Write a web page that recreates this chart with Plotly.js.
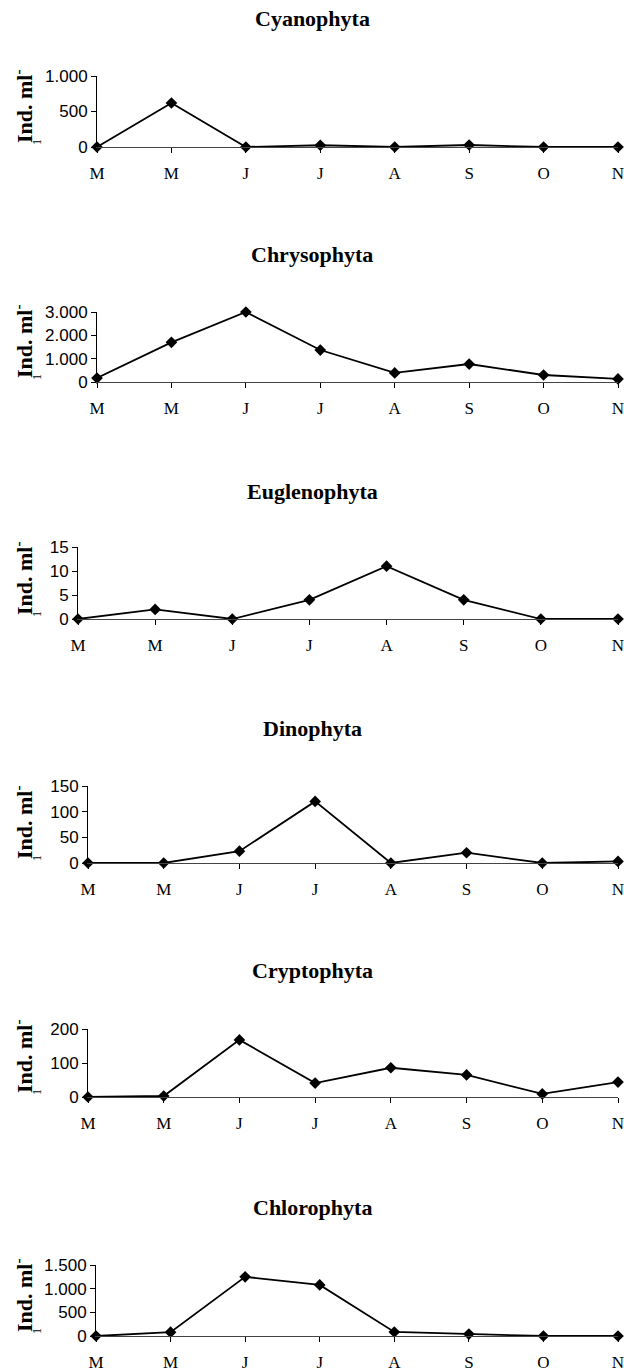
<!DOCTYPE html>
<html>
<head>
<meta charset="utf-8">
<script src="https://cdn.plot.ly/plotly-3.0.1.min.js"></script>
<style>html,body{margin:0;padding:0;background:#fff;}#chart{width:624px;height:1371px;}</style>
</head>
<body>
<div id="chart"></div>
<script>
// ---- data ----
const months = ['M', 'M', 'J', 'J', 'A', 'S', 'O', 'N'];
const panelNames = ['Cyanophyta', 'Chrysophyta', 'Euglenophyta', 'Dinophyta', 'Cryptophyta', 'Chlorophyta'];
const cyanophyta   = [0, 620, 0, 25, 0, 28, 0, 0];
const chrysophyta  = [170, 1700, 3000, 1370, 390, 770, 300, 130];
const euglenophyta = [0, 2, 0, 4, 11, 4, 0, 0];
const dinophyta    = [0, 0, 23, 120, 0, 20, 0, 3];
const cryptophyta  = [0, 3, 168, 41, 86, 65, 9, 44];
const chlorophyta  = [0, 80, 1250, 1080, 85, 40, 0, 0];
const ticksCyanophyta   = [0, 500, 1000];
const ticksChrysophyta  = [0, 1000, 2000, 3000];
const ticksEuglenophyta = [0, 5, 10, 15];
const ticksDinophyta    = [0, 50, 100, 150];
const ticksCryptophyta  = [0, 100, 200];
const ticksChlorophyta  = [0, 500, 1000, 1500];
const yLabel = 'Ind. ml';

const series = [cyanophyta, chrysophyta, euglenophyta, dinophyta, cryptophyta, chlorophyta];
const yTicks = [ticksCyanophyta, ticksChrysophyta, ticksEuglenophyta, ticksDinophyta, ticksCryptophyta, ticksChlorophyta];

// ---- geometry (pixels) ----
const W = 624, H = 1371;
const geom = [
  {left: 97, zero: 147,  top: 76,   title: 18},
  {left: 97, zero: 382,  top: 312,  title: 255},
  {left: 78, zero: 619,  top: 547,  title: 491},
  {left: 88, zero: 863,  top: 786,  title: 728},
  {left: 88, zero: 1097, top: 1029, title: 970},
  {left: 96, zero: 1336, top: 1265, title: 1207}
];
const rightPx = 618;
const py = p => 1 - p / H;
const px = p => p / W;

const idx = months.map((m, k) => k);
const traces = [];
const layout = {
  width: W, height: H,
  margin: {l: 0, r: 0, t: 0, b: 0},
  paper_bgcolor: '#fff', plot_bgcolor: '#fff',
  showlegend: false,
  separators: ',.',
  annotations: []
};

series.forEach((vals, i) => {
  const n = i === 0 ? '' : String(i + 1);
  const g = geom[i];
  const ticks = yTicks[i];
  traces.push({
    x: idx, y: vals,
    xaxis: 'x' + n, yaxis: 'y' + n,
    type: 'scatter', mode: 'lines+markers',
    line: {color: '#000', width: 1.8},
    marker: {symbol: 'diamond', size: 9, color: '#000'},
    cliponaxis: false,
    hoverinfo: 'skip'
  });
  layout['xaxis' + n] = {
    domain: [px(g.left), px(rightPx)],
    anchor: 'y' + n,
    range: [0, months.length - 1],
    tickmode: 'array', tickvals: idx, ticktext: months,
    ticks: 'outside', ticklen: 5, tickwidth: 1, tickcolor: '#000',
    showline: true, linecolor: '#444', linewidth: 1,
    showgrid: false, zeroline: false,
    tickfont: {family: 'Liberation Serif', size: 17, color: '#000'},
    ticklabelstandoff: 6,
    ticklabeloverflow: 'allow',
    automargin: false,
    fixedrange: true
  };
  layout['yaxis' + n] = {
    domain: [py(g.zero), py(g.top)],
    anchor: 'x' + n,
    range: [0, ticks[ticks.length - 1]],
    tickmode: 'array', tickvals: ticks,
    separatethousands: true,
    ticks: 'outside', ticklen: 5, tickwidth: 1, tickcolor: '#000',
    showline: true, linecolor: '#000', linewidth: 1,
    showgrid: false, zeroline: false,
    tickfont: {family: 'Liberation Sans', size: 17, color: '#000'},
    automargin: false,
    fixedrange: true
  };
  layout.annotations.push({
    xref: 'paper', yref: 'paper', x: 0.5, y: py(g.title),
    xanchor: 'center', yanchor: 'middle', showarrow: false,
    text: '<b>' + panelNames[i] + '</b>',
    font: {family: 'Liberation Serif', size: 22, color: '#000'}
  });
  layout.annotations.push({
    xref: 'paper', yref: 'paper', x: px(23), y: py(g.zero - 2),
    xanchor: 'center', yanchor: 'bottom', showarrow: false,
    textangle: -90,
    text: '<b>' + yLabel + '<sup>-</sup></b>',
    font: {family: 'Liberation Serif', size: 22, color: '#000'}
  });
  layout.annotations.push({
    xref: 'paper', yref: 'paper', x: px(37), y: py(g.zero - 5),
    xanchor: 'center', yanchor: 'middle', showarrow: false,
    textangle: -90,
    text: '1',
    font: {family: 'Liberation Serif', size: 12, color: '#000'}
  });
});

Plotly.newPlot('chart', traces, layout, {staticPlot: true, displayModeBar: false});
</script>
</body>
</html>
